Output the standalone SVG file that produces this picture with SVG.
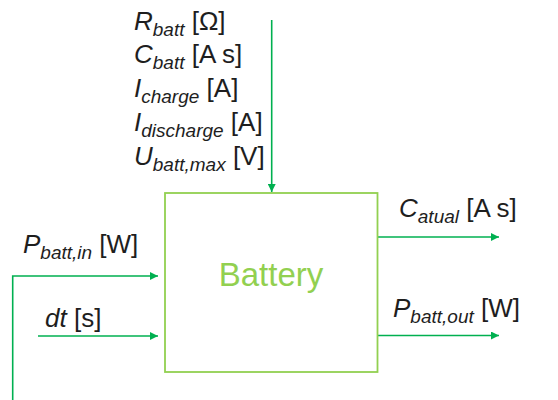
<svg xmlns="http://www.w3.org/2000/svg" width="558" height="400" viewBox="0 0 558 400">
<style>
.lbl{font-family:"Liberation Sans",Arial,sans-serif;font-size:26px;fill:#1e1e1e}
.it{font-style:italic}
.sub{font-style:italic;font-size:19px}
.conn{stroke:#00B050;stroke-width:1.6;fill:none}
.box{fill:#FFFFFF;stroke:#92D050;stroke-width:1.8}
.title{font-family:"Liberation Sans",Arial,sans-serif;font-size:33px;fill:#92D050}
</style>
<defs>
<marker id="ah" viewBox="0 0 10 10" refX="10" refY="5" markerWidth="9" markerHeight="8" markerUnits="userSpaceOnUse" orient="auto">
<path d="M0,0 L10,5 L0,10 Z" fill="#00B050"/>
</marker>
</defs>
<g id="connectors">
<path class="conn" d="M271.7,20 V192" marker-end="url(#ah)"/>
<path class="conn" d="M12.7,400 V276 H158" marker-end="url(#ah)"/>
<path class="conn" d="M38,336 H158" marker-end="url(#ah)"/>
<path class="conn" d="M377.5,237 H499" marker-end="url(#ah)"/>
<path class="conn" d="M377.5,335.5 H499" marker-end="url(#ah)"/>
</g>
<g id="battery">
<rect class="box" x="165" y="193" width="212.5" height="179"/>
<text class="title" x="271" y="286" text-anchor="middle">Battery</text>
</g>
<g id="inputs-top">
<text class="lbl" x="134" y="30"><tspan class="it">R</tspan><tspan class="sub" dy="6">batt</tspan><tspan dy="-6"> [Ω]</tspan></text>
<text class="lbl" x="134" y="63"><tspan class="it">C</tspan><tspan class="sub" dy="6">batt</tspan><tspan dy="-6"> [A s]</tspan></text>
<text class="lbl" x="134" y="97"><tspan class="it">I</tspan><tspan class="sub" dy="6">charge</tspan><tspan dy="-6"> [A]</tspan></text>
<text class="lbl" x="134" y="131"><tspan class="it">I</tspan><tspan class="sub" dy="6">discharge</tspan><tspan dy="-6"> [A]</tspan></text>
<text class="lbl" x="134" y="165"><tspan class="it">U</tspan><tspan class="sub" dy="6">batt,max</tspan><tspan dy="-6"> [V]</tspan></text>
</g>
<g id="input-pbatt-in">
<text class="lbl" x="23" y="253"><tspan class="it">P</tspan><tspan class="sub" dy="6">batt,in</tspan><tspan dy="-6"> [W]</tspan></text>
</g>
<g id="input-dt">
<text class="lbl" x="45" y="327"><tspan class="it">dt</tspan> [s]</text>
</g>
<g id="output-catual">
<text class="lbl" x="399" y="217"><tspan class="it">C</tspan><tspan class="sub" dy="6">atual</tspan><tspan dy="-6"> [A s]</tspan></text>
</g>
<g id="output-pbatt-out">
<text class="lbl" x="393" y="317"><tspan class="it">P</tspan><tspan class="sub" dy="6">batt,out</tspan><tspan dy="-6"> [W]</tspan></text>
</g>
</svg>
